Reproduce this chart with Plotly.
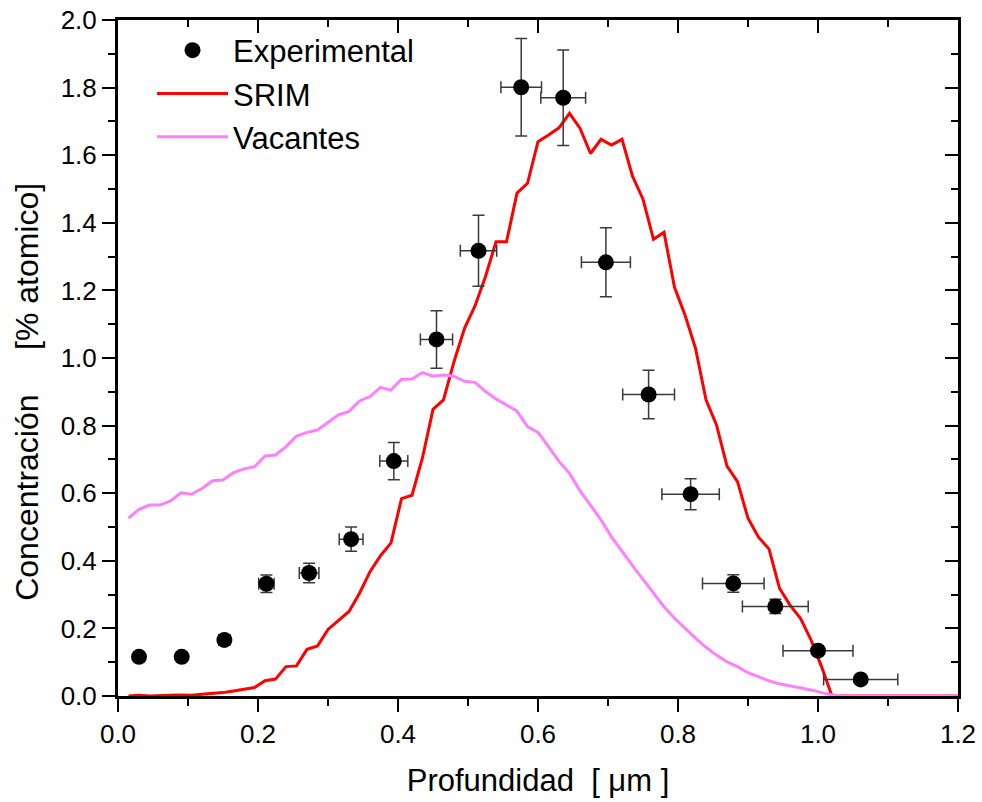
import plotly.graph_objects as go

# ---------------- data ----------------
depth_um = [
    0.015, 0.030, 0.045, 0.060, 0.075, 0.090, 0.105, 0.120, 0.135, 0.150,
    0.165, 0.180, 0.195, 0.210, 0.225, 0.240, 0.255, 0.270, 0.285, 0.300,
    0.315, 0.330, 0.345, 0.360, 0.375, 0.390, 0.405, 0.420, 0.435, 0.450,
    0.465, 0.480, 0.495, 0.510, 0.525, 0.540, 0.555, 0.570, 0.585, 0.600,
    0.615, 0.630, 0.645, 0.660, 0.675, 0.690, 0.705, 0.720, 0.735, 0.750,
    0.765, 0.780, 0.795, 0.810, 0.825, 0.840, 0.855, 0.870, 0.885, 0.900,
    0.915, 0.930, 0.945, 0.960, 0.975, 0.990, 1.005, 1.020, 1.035, 1.050,
    1.065, 1.080, 1.095, 1.110, 1.125, 1.140, 1.155, 1.170, 1.185, 1.200,
]

srim_conc = [
    0.000, 0.002, 0.000, 0.000, 0.002, 0.003, 0.002, 0.005, 0.007, 0.010,
    0.015, 0.019, 0.025, 0.045, 0.050, 0.087, 0.089, 0.138, 0.148, 0.197,
    0.223, 0.250, 0.304, 0.368, 0.415, 0.453, 0.584, 0.594, 0.705, 0.848,
    0.876, 0.989, 1.088, 1.154, 1.241, 1.344, 1.344, 1.488, 1.517, 1.640,
    1.660, 1.681, 1.724, 1.680, 1.605, 1.647, 1.630, 1.647, 1.538, 1.470,
    1.351, 1.372, 1.209, 1.127, 1.029, 0.876, 0.802, 0.680, 0.634, 0.526,
    0.470, 0.435, 0.319, 0.269, 0.230, 0.166, 0.087, 0.000, 0.000, 0.000,
    0.000, 0.000, 0.000, 0.000, 0.000, 0.000, 0.000, 0.000, 0.000, 0.000,
]

vacantes_conc = [
    0.526, 0.552, 0.565, 0.565, 0.577, 0.601, 0.597, 0.614, 0.637, 0.639,
    0.661, 0.672, 0.678, 0.710, 0.713, 0.738, 0.769, 0.780, 0.787, 0.810,
    0.832, 0.842, 0.873, 0.886, 0.913, 0.905, 0.937, 0.938, 0.957, 0.946,
    0.950, 0.946, 0.931, 0.928, 0.901, 0.879, 0.861, 0.843, 0.797, 0.780,
    0.738, 0.694, 0.659, 0.607, 0.565, 0.521, 0.471, 0.427, 0.386, 0.345,
    0.304, 0.264, 0.230, 0.200, 0.171, 0.144, 0.121, 0.101, 0.087, 0.069,
    0.057, 0.045, 0.036, 0.030, 0.025, 0.018, 0.010, 0.003, 0.000, 0.000,
    0.000, 0.000, 0.000, 0.000, 0.000, 0.000, 0.000, 0.000, 0.000, 0.000,
]

exp_depth = [0.030, 0.091, 0.152, 0.212, 0.273, 0.333, 0.394, 0.455, 0.515,
             0.576, 0.636, 0.697, 0.758, 0.818, 0.879, 0.939, 1.000, 1.061]
exp_conc = [0.116, 0.116, 0.166, 0.332, 0.364, 0.464, 0.695, 1.055, 1.317,
            1.801, 1.770, 1.283, 0.892, 0.597, 0.333, 0.265, 0.134, 0.049]
exp_xerr = [0.002, 0.005, 0.008, 0.011, 0.014, 0.017, 0.020, 0.023, 0.026,
            0.029, 0.032, 0.035, 0.037, 0.041, 0.044, 0.047, 0.050, 0.053]
exp_yerr = [0.009, 0.009, 0.013, 0.026, 0.029, 0.036, 0.055, 0.085, 0.105,
            0.144, 0.141, 0.102, 0.072, 0.046, 0.026, 0.021, 0.011, 0.004]

x_ticks = [0.0, 0.2, 0.4, 0.6, 0.8, 1.0, 1.2]
y_ticks = [0.0, 0.2, 0.4, 0.6, 0.8, 1.0, 1.2, 1.4, 1.6, 1.8, 2.0]

FONT = "Liberation Sans, Arial, sans-serif"
NB = "\u00a0"

fig = go.Figure()

fig.add_trace(go.Scatter(
    x=depth_um, y=srim_conc, mode="lines", name="SRIM",
    line=dict(color="#FF0000", width=3), legendrank=2,
))
fig.add_trace(go.Scatter(
    x=depth_um, y=vacantes_conc, mode="lines", name="Vacantes",
    line=dict(color="#FF80FF", width=3), legendrank=3,
))
fig.add_trace(go.Scatter(
    x=exp_depth, y=exp_conc, mode="markers", name="Experimental",
    marker=dict(color="black", size=16, symbol="circle"),
    error_x=dict(type="data", array=exp_xerr, visible=True,
                 color="#3a3a3a", thickness=1.5, width=6),
    error_y=dict(type="data", array=exp_yerr, visible=True,
                 color="#3a3a3a", thickness=1.5, width=6),
    legendrank=1, cliponaxis=False,
))
# invisible trace to carry the mirrored (top / right) axes
fig.add_trace(go.Scatter(
    x=[None], y=[None], xaxis="x2", yaxis="y2", mode="markers",
    showlegend=False, hoverinfo="skip",
))

tick_common = dict(
    ticks="outside", ticklen=13, tickwidth=2, tickcolor="black",
    showline=True, linewidth=3, linecolor="black",
    showgrid=False, zeroline=False, automargin=False,
    tickfont=dict(family=FONT, size=26, color="black"),
    tickformat=".1f",
)

mirror_common = dict(
    showticklabels=False, ticks="inside", ticklen=13, tickwidth=2,
    tickcolor="black", showline=True, linewidth=3, linecolor="black",
    showgrid=False, zeroline=False, automargin=False,
)

fig.update_layout(
    width=982, height=802,
    margin=dict(l=118, r=24, t=20, b=106, autoexpand=False),
    paper_bgcolor="white", plot_bgcolor="white",
    font=dict(family=FONT, color="black"),
    xaxis=dict(
        range=[0, 1.2], tickmode="array", tickvals=x_ticks,
        minor=dict(dtick=0.1, tick0=0, ticks="outside", ticklen=7,
                   tickwidth=2, tickcolor="black", showgrid=False),
        title=dict(text="Profundidad" + NB + NB + "[ μm ]",
                   font=dict(family=FONT, size=31, color="black"),
                   standoff=22),
        **tick_common,
    ),
    yaxis=dict(
        range=[0, 2.0], tickmode="array", tickvals=y_ticks,
        minor=dict(dtick=0.1, tick0=0, ticks="outside", ticklen=7,
                   tickwidth=2, tickcolor="black", showgrid=False),
        **tick_common,
    ),
    xaxis2=dict(
        overlaying="x", side="top", anchor="y2", range=[0, 1.2],
        tickmode="array", tickvals=x_ticks,
        minor=dict(dtick=0.1, tick0=0, ticks="inside", ticklen=7,
                   tickwidth=2, tickcolor="black", showgrid=False),
        **mirror_common,
    ),
    yaxis2=dict(
        overlaying="y", side="right", anchor="x2", range=[0, 2.0],
        tickmode="array", tickvals=y_ticks,
        minor=dict(dtick=0.1, tick0=0, ticks="inside", ticklen=7,
                   tickwidth=2, tickcolor="black", showgrid=False),
        **mirror_common,
    ),
    legend=dict(
        x=0.0405, y=0.9948, xanchor="left", yanchor="top",
        bgcolor="rgba(0,0,0,0)", borderwidth=0,
        font=dict(family=FONT, size=31, color="black"),
        itemwidth=71, tracegroupgap=0,
    ),
    annotations=[dict(
        text="Concentración" + NB * 5 + "[% atomico]",
        textangle=-90, xref="paper", yref="paper",
        x=0, xanchor="center", xshift=-91,
        y=0.450, yanchor="middle", showarrow=False,
        font=dict(family=FONT, size=32, color="black"),
    )],
    showlegend=True,
)

fig.write_html("out.html")
